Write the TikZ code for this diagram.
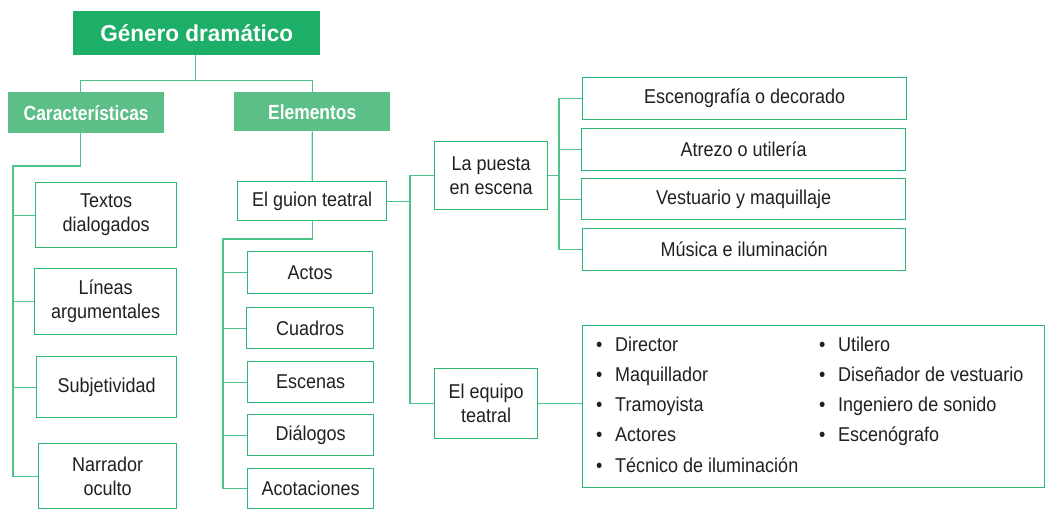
\documentclass[tikz,border=0pt]{standalone}
\usepackage{fontspec}
\setmainfont{Liberation Sans}[FakeStretch=0.9]
\newfontfamily\headfont{Liberation Sans}[FakeStretch=0.85]
\newfontfamily\titlefont{Liberation Sans}[FakeStretch=0.98]
\usetikzlibrary{calc}
\definecolor{gdark}{HTML}{1DAE67}
\definecolor{glight}{HTML}{5BBF87}
\definecolor{gborder}{HTML}{2BB672}
\definecolor{gline}{HTML}{4CC487}
\definecolor{txt}{HTML}{231F20}
\tikzset{
  box/.style={draw=gborder, line width=1.3pt, fill=white, inner sep=0pt, align=center,
    font=\fontsize{20}{24}\selectfont, text=txt},
  titlebox/.style={draw=none, fill=gdark, inner sep=0pt, align=center,
    font=\titlefont\bfseries\fontsize{23}{26}\selectfont, text=white},
  headbox/.style={draw=none, fill=glight, inner sep=0pt, align=center,
    font=\headfont\bfseries\fontsize{20.5}{24}\selectfont, text=white},
  conn/.style={draw=gline, line width=1.3pt},
  item/.style={anchor=base west, inner sep=0pt, font=\fontsize{20}{24}\selectfont, text=txt}
}
\newcommand\mkbox[7]{\node[#1, minimum width={#5-#3}, minimum height={#6-#4}, anchor=north west] (#2) at (#3,#4) {#7};}
\begin{document}
\begin{tikzpicture}[x=1pt,y=-1pt]
\useasboundingbox[fill=white] (0,0) rectangle (1064,527);
% boxes
\mkbox{titlebox}{title}{73}{11}{320}{55}{Género dramático}
\mkbox{headbox}{carac}{8}{92}{164}{133}{Características}
\mkbox{headbox}{elem}{234}{92}{390}{131}{Elementos}
\mkbox{box}{textos}{35}{182}{176}{247}{Textos\\dialogados}
\mkbox{box}{lineas}{34}{268}{176}{334}{Líneas\\argumentales}
\mkbox{box}{subj}{36}{356}{176}{417}{Subjetividad}
\mkbox{box}{narr}{38}{443}{176}{508}{Narrador\\oculto}
\mkbox{box}{guion}{237}{181}{386}{220}{El guion teatral}
\mkbox{box}{actos}{247}{251}{372}{293}{Actos}
\mkbox{box}{cuadros}{246}{307}{373}{348}{Cuadros}
\mkbox{box}{escenas}{247}{361}{373}{402}{Escenas}
\mkbox{box}{dialogos}{247}{414}{373}{455}{Diálogos}
\mkbox{box}{acot}{247}{468}{373}{508}{Acotaciones}
\mkbox{box}{puesta}{434}{141}{547}{209}{La puesta\\en escena}
\mkbox{box}{equipo}{434}{368}{537}{438}{El equipo\\teatral}
\mkbox{box}{esceno}{582}{77}{906}{119}{Escenografía o decorado}
\mkbox{box}{atrezo}{581}{128}{905}{170}{Atrezo o utilería}
\mkbox{box}{vest}{581}{178}{905}{219}{Vestuario y maquillaje}
\mkbox{box}{musica}{582}{228}{905}{270}{Música e iluminación}
\mkbox{box}{lista}{582}{325}{1044}{487}{}
% list items
\foreach \t [count=\i] in {Director, Maquillador, Tramoyista, Actores, Técnico de iluminación}
  \node[item] (li\i) at (596,{351+(\i-1)*30.3}) {\makebox[19pt][l]{\textbullet}\t};
\foreach \t [count=\i] in {Utilero, Diseñador de vestuario, Ingeniero de sonido, Escenógrafo}
  \node[item] (ri\i) at (819,{351+(\i-1)*30.3}) {\makebox[19pt][l]{\textbullet}\t};
% connectors
\coordinate (j1) at ($(title.south)+(-1.5,25)$);
\draw[conn] (j1 |- title.south) -- (j1);
\draw[conn] ([xshift=-6pt]carac.north) |- (j1) -| (elem.north);
\coordinate (tl) at (13,166);
\draw[conn] ([xshift=-6pt]carac.south) |- (tl) -- (tl |- narr.west) -- (narr.west);
\foreach \n in {textos,lineas,subj} \draw[conn] (tl |- \n.west) -- (\n.west);
\draw[conn] (elem.south) -- (guion.north);
\coordinate (gl) at (223,239);
\draw[conn] (guion.south) |- (gl) -- (gl |- acot.west) -- (acot.west);
\foreach \n in {actos,cuadros,escenas,dialogos} \draw[conn] (gl |- \n.west) -- (\n.west);
\coordinate (gr) at (410,0);
\draw[conn] (guion.east) -- (guion.east -| gr);
\draw[conn] (puesta.west) -- (puesta.west -| gr) -- (equipo.west -| gr) -- (equipo.west);
\coordinate (pr) at (559,0);
\draw[conn] (puesta.east) -- (puesta.east -| pr);
\draw[conn] (esceno.west) -- (esceno.west -| pr) -- (musica.west -| pr) -- (musica.west);
\foreach \n in {atrezo,vest} \draw[conn] (pr |- \n.west) -- (\n.west);
\draw[conn] (equipo.east) -- (equipo.east -| lista.west);
\end{tikzpicture}
\end{document}
